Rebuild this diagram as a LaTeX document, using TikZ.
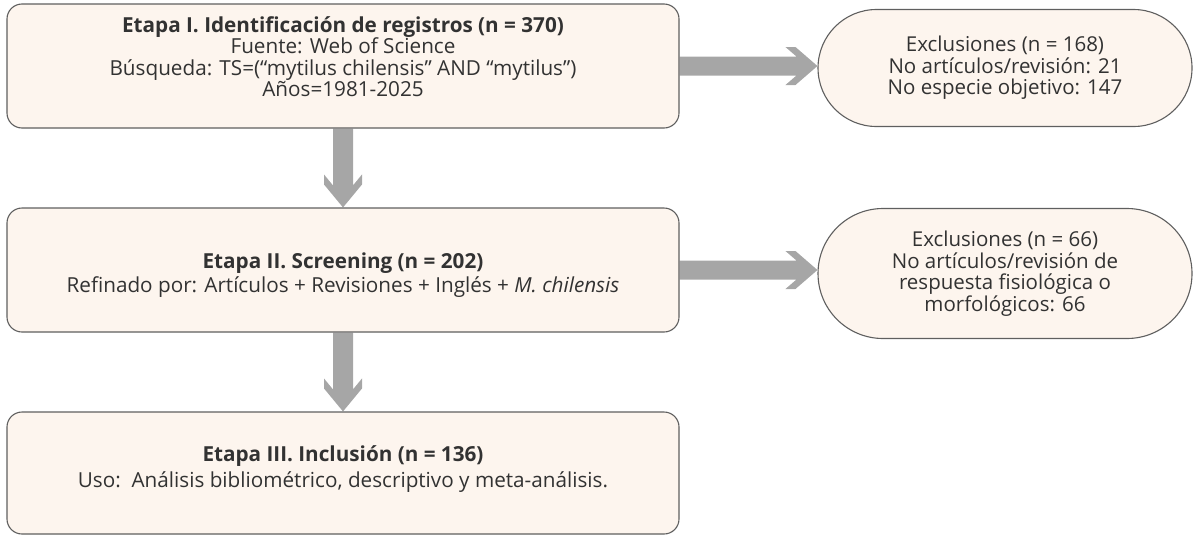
\documentclass[tikz,border=0pt]{standalone}
\usepackage{fontspec}
\setmainfont{Open Sans}
\usetikzlibrary{shapes.misc,calc}
\pgfdeclarelayer{background}
\pgfsetlayers{background,main}
\definecolor{boxfill}{RGB}{253,245,238}
\definecolor{boxline}{RGB}{95,95,95}
\definecolor{arrowc}{RGB}{166,166,166}
\definecolor{txt}{RGB}{50,50,50}
\begin{document}
\begin{tikzpicture}[x=1pt,y=1pt,
  stage/.style={draw=boxline, line width=1.1pt, fill=boxfill, rounded corners=15pt, minimum width=672pt, inner sep=0pt},
  excl/.style={rounded rectangle, draw=boxline, line width=1.1pt, fill=boxfill, minimum width=374pt, inner sep=0pt, align=center, text=txt, font=\fontsize{20.5}{21.5}\selectfont},
  stagetext/.style={align=center, inner sep=0pt, text=txt, font=\fontsize{20.7}{21.5}\selectfont},
  blockarrow/.style={fill=arrowc, draw=none}]
\useasboundingbox (0,0) rectangle (1193,-536);
\node[stage, minimum height=124pt] (b1) at (343,-66) {};
\node[stage, minimum height=124pt] (b2) at (343,-270) {};
\node[stage, minimum height=122pt] (b3) at (343,-473) {};
\node[excl, minimum height=117pt] (x1) at (1005,-68) {Exclusiones (n = 168)\\No artículos/revisión: 21\\No especie objetivo: 147};
\node[excl, minimum height=130pt] (x2) at (1005,-273.5) {Exclusiones (n = 66)\\No artículos/revisión de\\respuesta fisiológica o\\morfológicos: 66};
\node[stagetext] (t1) at (343,-56.5) {\textbf{Etapa I. Identificación de registros (n = 370)}\\Fuente: Web of Science\\Búsqueda: TS=(“mytilus chilensis” AND “mytilus”)\\Años=1981-2025};
\node[stagetext] (t2) at (343,-275.5) {\textbf{Etapa II. Screening (n = 202)}\\[2.5pt]Refinado por: Artículos + Revisiones + Inglés + \textit{M. chilensis}};
\node[stagetext] (t3) at (343,-469.5) {\textbf{Etapa III. Inclusión (n = 136)}\\[4.5pt]Uso:\ \ Análisis bibliométrico, descriptivo y meta-análisis.};
\begin{pgfonlayer}{background}
\fill[blockarrow] let \p1=(b1.south), \p2=(b2.north) in (\x1-10pt,\y1) -- (\x1-10pt,\y2+22pt) -- (\x1-19pt,\y2+33pt) -- (\x1-19pt,\y2+23pt) -- (\x1,\y2) -- (\x1+19pt,\y2+23pt) -- (\x1+19pt,\y2+33pt) -- (\x1+10pt,\y2+22pt) -- (\x1+10pt,\y1) -- cycle;
\fill[blockarrow] let \p1=(b2.south), \p2=(b3.north) in (\x1-10pt,\y1) -- (\x1-10pt,\y2+22pt) -- (\x1-19pt,\y2+33pt) -- (\x1-19pt,\y2+23pt) -- (\x1,\y2) -- (\x1+19pt,\y2+23pt) -- (\x1+19pt,\y2+33pt) -- (\x1+10pt,\y2+22pt) -- (\x1+10pt,\y1) -- cycle;
\fill[blockarrow] let \p1=(b1.east), \p2=(x1.west) in (\x1,\y1+9.5pt) -- (\x2-21pt,\y1+9.5pt) -- (\x2-32pt,\y1+19pt) -- (\x2-22pt,\y1+19pt) -- (\x2,\y1) -- (\x2-22pt,\y1-19pt) -- (\x2-32pt,\y1-19pt) -- (\x2-21pt,\y1-9.5pt) -- (\x1,\y1-9.5pt) -- cycle;
\fill[blockarrow] let \p1=(b2.east), \p2=(x2.west) in (\x1,\y1+9.5pt) -- (\x2-21pt,\y1+9.5pt) -- (\x2-32pt,\y1+19pt) -- (\x2-22pt,\y1+19pt) -- (\x2,\y1) -- (\x2-22pt,\y1-19pt) -- (\x2-32pt,\y1-19pt) -- (\x2-21pt,\y1-9.5pt) -- (\x1,\y1-9.5pt) -- cycle;
\end{pgfonlayer}
\end{tikzpicture}
\end{document}
